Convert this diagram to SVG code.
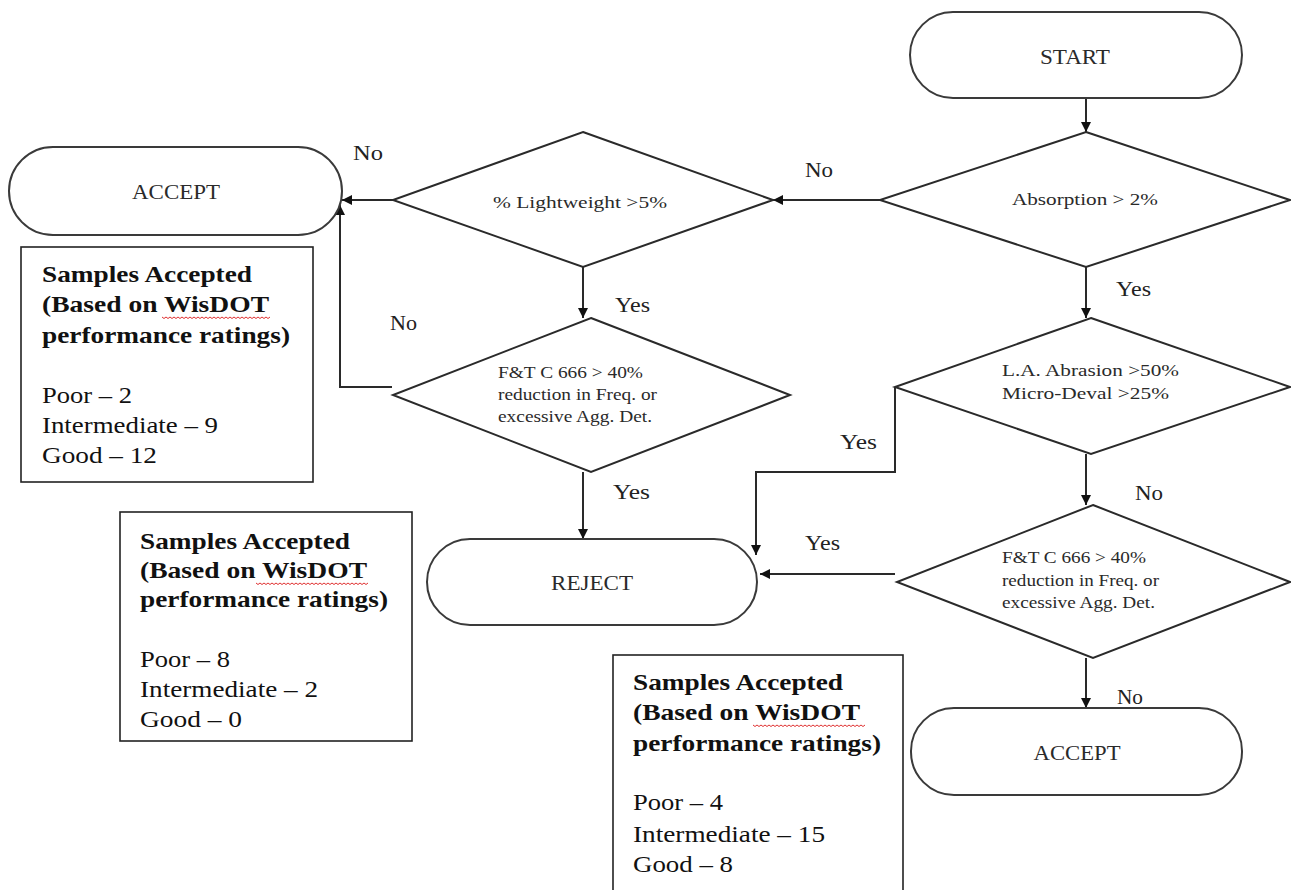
<svg xmlns="http://www.w3.org/2000/svg" width="1291" height="890" viewBox="0 0 1291 890">
<style>
  .cap{fill:#fff;stroke:#3a3a3a;stroke-width:2}
  .dia{fill:#fff;stroke:#2a2a2a;stroke-width:2}
  .box{fill:#fff;stroke:#222;stroke-width:1.6}
  .nt{font-family:"Liberation Serif","Times New Roman",serif;font-size:20px;fill:#2a2a2a;text-anchor:middle}
  .dt{font-family:"Liberation Serif","Times New Roman",serif;font-size:17px;fill:#2a2a2a}
  .lb{font-family:"Liberation Serif","Times New Roman",serif;font-size:20px;fill:#222}
  .bh{font-family:"Liberation Serif","Times New Roman",serif;font-size:23px;font-weight:bold;fill:#111}
  .br{font-family:"Liberation Serif","Times New Roman",serif;font-size:23px;fill:#111}
  .con{fill:none;stroke:#2a2a2a;stroke-width:2}
  .sq{fill:none;stroke:#e03030;stroke-width:1}
</style>
<defs>
  <marker id="ah" viewBox="0 0 10 10" refX="10" refY="5" markerWidth="10" markerHeight="10" markerUnits="userSpaceOnUse" orient="auto">
    <path d="M0,0 L10,5 L0,10 Z" fill="#111"/>
  </marker>
</defs>

<g id="connectors">
  <path class="con" d="M1086,98 V132" marker-end="url(#ah)"/>
  <path class="con" d="M880,200 H773" marker-end="url(#ah)"/>
  <path class="con" d="M393,200 H342" marker-end="url(#ah)"/>
  <path class="con" d="M583,267 V318" marker-end="url(#ah)"/>
  <path class="con" d="M392,387 H340 V205" marker-end="url(#ah)"/>
  <path class="con" d="M583,472 V539" marker-end="url(#ah)"/>
  <path class="con" d="M1086,267 V318" marker-end="url(#ah)"/>
  <path class="con" d="M895,387 V472 H756 V555" marker-end="url(#ah)"/>
  <path class="con" d="M1086,454 V505" marker-end="url(#ah)"/>
  <path class="con" d="M895,574 H760" marker-end="url(#ah)"/>
  <path class="con" d="M1086,658 V708" marker-end="url(#ah)"/>
</g>

<g id="start">
  <rect class="cap" x="910" y="12" width="332" height="86" rx="43"/>
  <text class="nt" x="1075" y="64" textLength="70" lengthAdjust="spacingAndGlyphs">START</text>
</g>

<g id="absorption">
  <polygon class="dia" points="1086,132 1290,200 1086,267 880,200"/>
  <text class="dt" x="1012" y="205" textLength="146" lengthAdjust="spacingAndGlyphs">Absorption &gt; 2%</text>
</g>

<g id="lightweight">
  <polygon class="dia" points="583,132 773,200 583,267 393,200"/>
  <text class="dt" x="493" y="208" textLength="174" lengthAdjust="spacingAndGlyphs">% Lightweight &gt;5%</text>
</g>

<g id="accept-left">
  <rect class="cap" x="9" y="147" width="333" height="88" rx="44"/>
  <text class="nt" x="176" y="199" textLength="88" lengthAdjust="spacingAndGlyphs">ACCEPT</text>
</g>

<g id="ft-left">
  <polygon class="dia" points="591,318 790,395 591,472 393,395"/>
  <text class="dt" x="498" y="378" textLength="145" lengthAdjust="spacingAndGlyphs">F&amp;T C 666 &gt; 40%</text>
  <text class="dt" x="498" y="400" textLength="159" lengthAdjust="spacingAndGlyphs">reduction in Freq. or</text>
  <text class="dt" x="498" y="422" textLength="154" lengthAdjust="spacingAndGlyphs">excessive Agg. Det.</text>
</g>

<g id="la-abrasion">
  <polygon class="dia" points="1091,318 1290,387 1091,454 895,387"/>
  <text class="dt" x="1002" y="376" textLength="177" lengthAdjust="spacingAndGlyphs">L.A. Abrasion &gt;50%</text>
  <text class="dt" x="1002" y="399" textLength="167" lengthAdjust="spacingAndGlyphs">Micro-Deval &gt;25%</text>
</g>

<g id="ft-right">
  <polygon class="dia" points="1093,505 1290,582 1093,658 897,582"/>
  <text class="dt" x="1002" y="563" textLength="144" lengthAdjust="spacingAndGlyphs">F&amp;T C 666 &gt; 40%</text>
  <text class="dt" x="1002" y="586" textLength="157" lengthAdjust="spacingAndGlyphs">reduction in Freq. or</text>
  <text class="dt" x="1002" y="608" textLength="153" lengthAdjust="spacingAndGlyphs">excessive Agg. Det.</text>
</g>

<g id="reject">
  <rect class="cap" x="427" y="539" width="330" height="86" rx="43"/>
  <text class="nt" x="592" y="590" textLength="82" lengthAdjust="spacingAndGlyphs">REJECT</text>
</g>

<g id="accept-right">
  <rect class="cap" x="911" y="708" width="331" height="87" rx="43"/>
  <text class="nt" x="1077" y="760" textLength="87" lengthAdjust="spacingAndGlyphs">ACCEPT</text>
</g>

<g id="labels">
  <text class="lb" x="353" y="160" textLength="30" lengthAdjust="spacingAndGlyphs">No</text>
  <text class="lb" x="805" y="177" textLength="28" lengthAdjust="spacingAndGlyphs">No</text>
  <text class="lb" x="1116" y="296" textLength="35" lengthAdjust="spacingAndGlyphs">Yes</text>
  <text class="lb" x="615" y="312" textLength="35" lengthAdjust="spacingAndGlyphs">Yes</text>
  <text class="lb" x="390" y="330" textLength="27" lengthAdjust="spacingAndGlyphs">No</text>
  <text class="lb" x="840" y="449" textLength="37" lengthAdjust="spacingAndGlyphs">Yes</text>
  <text class="lb" x="613" y="499" textLength="37" lengthAdjust="spacingAndGlyphs">Yes</text>
  <text class="lb" x="1135" y="500" textLength="28" lengthAdjust="spacingAndGlyphs">No</text>
  <text class="lb" x="805" y="550" textLength="35" lengthAdjust="spacingAndGlyphs">Yes</text>
  <text class="lb" x="1117" y="704" textLength="26" lengthAdjust="spacingAndGlyphs">No</text>
</g>

<g id="box-left">
  <rect class="box" x="21" y="247" width="292" height="235"/>
  <text class="bh" x="42" y="282" textLength="210" lengthAdjust="spacingAndGlyphs">Samples Accepted</text>
  <text class="bh" x="42" y="312" textLength="227" lengthAdjust="spacingAndGlyphs">(Based on WisDOT</text>
  <path class="sq" d="M162,317 l2,1.5 l2,-1.5 l2,1.5 l2,-1.5 l2,1.5 l2,-1.5 l2,1.5 l2,-1.5 l2,1.5 l2,-1.5 l2,1.5 l2,-1.5 l2,1.5 l2,-1.5 l2,1.5 l2,-1.5 l2,1.5 l2,-1.5 l2,1.5 l2,-1.5 l2,1.5 l2,-1.5 l2,1.5 l2,-1.5 l2,1.5 l2,-1.5 l2,1.5 l2,-1.5 l2,1.5 l2,-1.5 l2,1.5 l2,-1.5 l2,1.5 l2,-1.5 l2,1.5 l2,-1.5 l2,1.5 l2,-1.5 l2,1.5 l2,-1.5 l2,1.5 l2,-1.5 l2,1.5 l2,-1.5 l2,1.5 l2,-1.5 l2,1.5 l2,-1.5 l2,1.5 l2,-1.5 l2,1.5 l2,-1.5 l2,1.5 l2,-1.5"/>
  <text class="bh" x="42" y="343" textLength="248" lengthAdjust="spacingAndGlyphs">performance ratings)</text>
  <text class="br" x="42" y="403" textLength="90" lengthAdjust="spacingAndGlyphs">Poor – 2</text>
  <text class="br" x="42" y="433" textLength="176" lengthAdjust="spacingAndGlyphs">Intermediate – 9</text>
  <text class="br" x="42" y="463" textLength="115" lengthAdjust="spacingAndGlyphs">Good – 12</text>
</g>

<g id="box-middle">
  <rect class="box" x="120" y="512" width="292" height="229"/>
  <text class="bh" x="140" y="549" textLength="210" lengthAdjust="spacingAndGlyphs">Samples Accepted</text>
  <text class="bh" x="140" y="578" textLength="227" lengthAdjust="spacingAndGlyphs">(Based on WisDOT</text>
  <path class="sq" d="M256,583 l2,1.5 l2,-1.5 l2,1.5 l2,-1.5 l2,1.5 l2,-1.5 l2,1.5 l2,-1.5 l2,1.5 l2,-1.5 l2,1.5 l2,-1.5 l2,1.5 l2,-1.5 l2,1.5 l2,-1.5 l2,1.5 l2,-1.5 l2,1.5 l2,-1.5 l2,1.5 l2,-1.5 l2,1.5 l2,-1.5 l2,1.5 l2,-1.5 l2,1.5 l2,-1.5 l2,1.5 l2,-1.5 l2,1.5 l2,-1.5 l2,1.5 l2,-1.5 l2,1.5 l2,-1.5 l2,1.5 l2,-1.5 l2,1.5 l2,-1.5 l2,1.5 l2,-1.5 l2,1.5 l2,-1.5 l2,1.5 l2,-1.5 l2,1.5 l2,-1.5 l2,1.5 l2,-1.5 l2,1.5 l2,-1.5 l2,1.5 l2,-1.5 l2,1.5 l2,-1.5"/>
  <text class="bh" x="140" y="607" textLength="248" lengthAdjust="spacingAndGlyphs">performance ratings)</text>
  <text class="br" x="140" y="667" textLength="90" lengthAdjust="spacingAndGlyphs">Poor – 8</text>
  <text class="br" x="140" y="697" textLength="178" lengthAdjust="spacingAndGlyphs">Intermediate – 2</text>
  <text class="br" x="140" y="727" textLength="102" lengthAdjust="spacingAndGlyphs">Good – 0</text>
</g>

<g id="box-right">
  <rect class="box" x="613" y="655" width="290" height="250"/>
  <text class="bh" x="633" y="690" textLength="210" lengthAdjust="spacingAndGlyphs">Samples Accepted</text>
  <text class="bh" x="633" y="720" textLength="227" lengthAdjust="spacingAndGlyphs">(Based on WisDOT</text>
  <path class="sq" d="M753,725 l2,1.5 l2,-1.5 l2,1.5 l2,-1.5 l2,1.5 l2,-1.5 l2,1.5 l2,-1.5 l2,1.5 l2,-1.5 l2,1.5 l2,-1.5 l2,1.5 l2,-1.5 l2,1.5 l2,-1.5 l2,1.5 l2,-1.5 l2,1.5 l2,-1.5 l2,1.5 l2,-1.5 l2,1.5 l2,-1.5 l2,1.5 l2,-1.5 l2,1.5 l2,-1.5 l2,1.5 l2,-1.5 l2,1.5 l2,-1.5 l2,1.5 l2,-1.5 l2,1.5 l2,-1.5 l2,1.5 l2,-1.5 l2,1.5 l2,-1.5 l2,1.5 l2,-1.5 l2,1.5 l2,-1.5 l2,1.5 l2,-1.5 l2,1.5 l2,-1.5 l2,1.5 l2,-1.5 l2,1.5 l2,-1.5 l2,1.5 l2,-1.5 l2,1.5 l2,-1.5"/>
  <text class="bh" x="633" y="751" textLength="248" lengthAdjust="spacingAndGlyphs">performance ratings)</text>
  <text class="br" x="633" y="810" textLength="90" lengthAdjust="spacingAndGlyphs">Poor – 4</text>
  <text class="br" x="633" y="842" textLength="192" lengthAdjust="spacingAndGlyphs">Intermediate – 15</text>
  <text class="br" x="633" y="872" textLength="100" lengthAdjust="spacingAndGlyphs">Good – 8</text>
</g>
</svg>
